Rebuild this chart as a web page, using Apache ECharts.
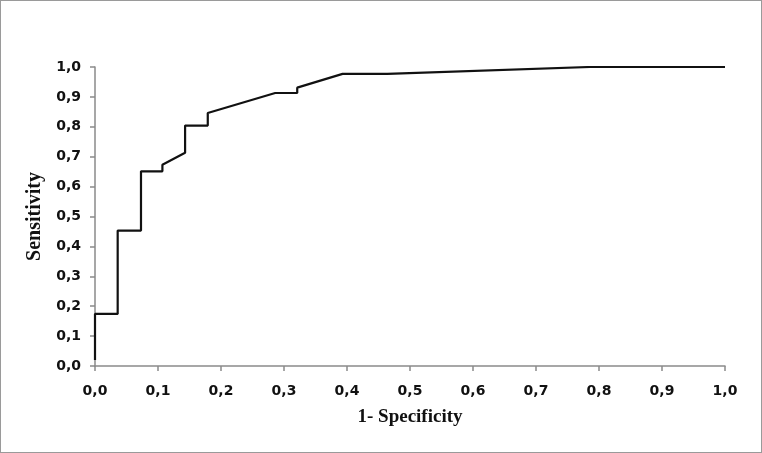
<!DOCTYPE html>
<html>
<head>
<meta charset="utf-8">
<script src="https://cdn.jsdelivr.net/npm/echarts@6/dist/echarts.min.js"></script>
<style>
  html, body { margin: 0; padding: 0; background: #fff; }
  #chart { width: 762px; height: 453px; box-sizing: border-box; border: 1px solid #9a9a9a; }
</style>
</head>
<body>
<div id="chart"></div>
<script>
// ROC curve points
const fpr = [0, 0, 0.036, 0.036, 0.073, 0.073, 0.107, 0.107, 0.143, 0.143, 0.179, 0.179, 0.286, 0.321, 0.321, 0.393, 0.464, 0.786, 1.0]
const tpr = [0.02, 0.174, 0.174, 0.453, 0.453, 0.651, 0.651, 0.673, 0.713, 0.804, 0.804, 0.846, 0.913, 0.913, 0.931, 0.977, 0.977, 1.0, 1.0]

const fmt = v => v.toFixed(1).replace('.', ',')

const chart = echarts.init(document.getElementById('chart'))

const axisCommon = {
  type: 'value',
  min: 0,
  max: 1,
  interval: 0.1,
  splitLine: { show: false },
  axisLine: { show: true, lineStyle: { color: '#8a8a8a', width: 1.5 } },
  axisTick: { show: true, length: 5, lineStyle: { color: '#8a8a8a', width: 1.5 } },
  nameLocation: 'middle'
}

const labelStyle = {
  formatter: fmt,
  color: '#111',
  fontFamily: 'DejaVu Sans',
  fontWeight: 'bold',
  fontSize: 14
}

const titleStyle = {
  fontFamily: 'Liberation Serif',
  fontWeight: 'bold',
  color: '#111'
}

chart.setOption({
  animation: false,
  grid: { left: 94, right: 36, top: 66, bottom: 86 },
  xAxis: Object.assign({}, axisCommon, {
    name: '1- Specificity',
    nameGap: 42,
    nameTextStyle: Object.assign({ fontSize: 19 }, titleStyle),
    axisLabel: Object.assign({ margin: 18 }, labelStyle)
  }),
  yAxis: Object.assign({}, axisCommon, {
    name: 'Sensitivity',
    nameGap: 44,
    nameTextStyle: Object.assign({ fontSize: 20 }, titleStyle),
    axisLabel: Object.assign({ margin: 14 }, labelStyle)
  }),
  series: [{
    type: 'line',
    data: fpr.map((x, i) => [x, tpr[i]]),
    showSymbol: false,
    lineStyle: { color: '#111', width: 2.2 }
  }]
})
</script>
</body>
</html>
